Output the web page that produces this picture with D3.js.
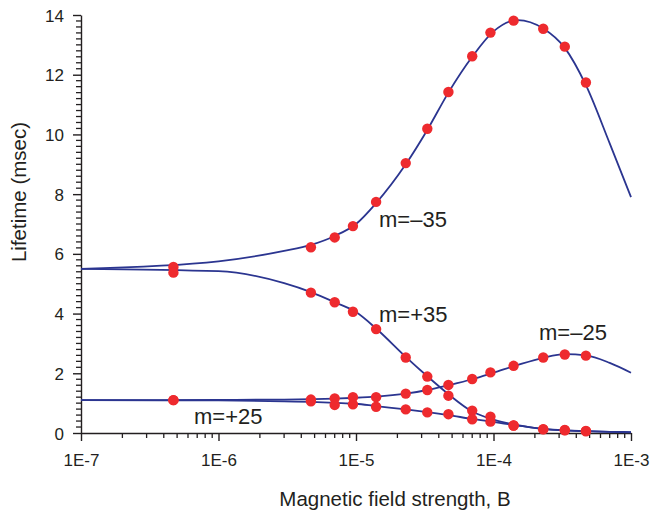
<!DOCTYPE html>
<html>
<head>
<meta charset="utf-8">
<script src="https://cdn.jsdelivr.net/npm/d3@7"></script>
<style>
  body { margin: 0; background: #fff; }
  text { font-family: "Liberation Sans", Arial, sans-serif; fill: #231f20; }
</style>
</head>
<body>
<div class="container"></div>
<script>
// measured field strengths (dots)
var fieldB = [4.7e-7, 4.7e-6, 7e-6, 9.5e-6, 1.4e-5, 2.3e-5, 3.3e-5, 4.7e-5, 7e-5, 9.5e-5, 1.4e-4, 2.3e-4, 3.3e-4, 4.7e-4];
var dotsM35neg = [5.56, 6.22, 6.55, 6.93, 7.74, 9.04, 10.19, 11.42, 12.62, 13.41, 13.81, 13.54, 12.94, 11.74];
var dotsM35pos = [5.37, 4.70, 4.38, 4.06, 3.48, 2.53, 1.89, 1.25, 0.75, 0.55, 0.25, 0.13, 0.10, 0.07];
var dotsM25neg = [1.10, 1.12, 1.16, 1.20, 1.20, 1.32, 1.44, 1.61, 1.81, 2.03, 2.25, 2.53, 2.63, 2.59];
var dotsM25pos = [1.10, 1.06, 0.94, 0.96, 0.88, 0.79, 0.69, 0.63, 0.46, 0.38, 0.25, 0.12, 0.09, 0.06];

// fitted curves
var curveB = [1e-7, 1e-6, 3e-6, 4.7e-6, 7e-6, 1e-5, 1.4e-5, 2.3e-5, 3.3e-5, 4.7e-5, 7e-5, 1e-4, 1.5e-4, 2.3e-4, 3.3e-4, 4.7e-4, 7e-4, 1e-3];
var curveM35neg = [5.50, 5.75, 6.10, 6.30, 6.60, 7.00, 7.70, 9.00, 10.15, 11.40, 12.60, 13.45, 13.83, 13.55, 12.90, 11.65, 9.70, 7.90];
var curveM35pos = [5.50, 5.42, 5.02, 4.72, 4.38, 4.05, 3.50, 2.55, 1.90, 1.30, 0.72, 0.45, 0.26, 0.13, 0.09, 0.06, 0.04, 0.02];
var curveM25neg = [1.10, 1.11, 1.12, 1.13, 1.15, 1.18, 1.22, 1.32, 1.44, 1.60, 1.80, 2.02, 2.28, 2.52, 2.64, 2.60, 2.35, 2.02];
var curveM25pos = [1.10, 1.09, 1.06, 1.04, 1.01, 0.98, 0.90, 0.79, 0.70, 0.60, 0.47, 0.37, 0.25, 0.14, 0.09, 0.06, 0.04, 0.03];

var seriesNames = ['m=\u201335', 'm=+35', 'm=\u201325', 'm=+25'];
var xTickLabels = ['1E-7', '1E-6', '1E-5', '1E-4', '1E-3'];

buildChart();

function buildChart() {
  var w = 651, h = 513;
  var left = 81, right = 631, top = 15, bottom = 433;

  var svg = d3.select('.container')
    .append('svg')
    .attr('width', w)
    .attr('height', h);

  var xScale = d3.scaleLog()
    .domain([1e-7, 1e-3])
    .range([left, right]);

  var yScale = d3.scaleLinear()
    .domain([0, 14])
    .range([bottom, top]);

  /* minor ticks, drawn as plain lines off the scales */
  var xMinor = [];
  for (var e = -7; e < -3; e++) {
    for (var k = 2; k <= 9; k++) xMinor.push(k * Math.pow(10, e));
  }
  var yMinor = d3.range(1, 70).filter(function(i) { return i % 10 != 0; })
    .map(function(i) { return i / 5; });

  svg.append('g')
    .selectAll('line')
    .data(xMinor)
    .enter()
    .append('line')
    .attr('x1', function(d) { return xScale(d); })
    .attr('x2', function(d) { return xScale(d); })
    .attr('y1', bottom)
    .attr('y2', bottom + 5)
    .attr('stroke', '#231f20')
    .attr('stroke-width', 1.3);

  svg.append('g')
    .selectAll('line')
    .data(yMinor)
    .enter()
    .append('line')
    .attr('x1', left - 5)
    .attr('x2', left)
    .attr('y1', function(d) { return yScale(d); })
    .attr('y2', function(d) { return yScale(d); })
    .attr('stroke', '#231f20')
    .attr('stroke-width', 1.3);

  var xAxis = d3.axisBottom(xScale)
    .tickValues([1e-7, 1e-6, 1e-5, 1e-4, 1e-3])
    .tickSize(8)
    .tickSizeOuter(0)
    .tickPadding(13)
    .tickFormat(function(d, i) { return xTickLabels[i]; });

  var yAxis = d3.axisLeft(yScale)
    .tickValues(d3.range(0, 15, 2))
    .tickSize(8)
    .tickSizeOuter(0)
    .tickPadding(9);

  var gx = svg.append('g')
    .attr('transform', 'translate(0,' + bottom + ')')
    .call(xAxis);
  var gy = svg.append('g')
    .attr('transform', 'translate(' + left + ',0)')
    .call(yAxis);

  svg.selectAll('.tick line, .domain')
    .attr('stroke', '#231f20')
    .attr('stroke-width', 1.4);

  gx.selectAll('text').style('font-size', '17px').attr('fill', '#231f20');
  gy.selectAll('text').style('font-size', '17px').attr('fill', '#231f20');
  gy.selectAll('.tick text').attr('dy', '0.36em');

  /* axis titles */
  svg.append('text')
    .attr('x', 395)
    .attr('y', 506)
    .attr('text-anchor', 'middle')
    .style('font-size', '20.5px')
    .text('Magnetic field strength, B');

  svg.append('text')
    .attr('transform', 'translate(26,192) rotate(-90)')
    .attr('text-anchor', 'middle')
    .style('font-size', '20.5px')
    .text('Lifetime (msec)');

  /* curves */
  var curves = [curveM35neg, curveM35pos, curveM25neg, curveM25pos];
  var line = d3.line()
    .x(function(d) { return xScale(d[0]); })
    .y(function(d) { return yScale(d[1]); })
    .curve(d3.curveMonotoneX);

  curves.forEach(function(vals) {
    svg.append('path')
      .datum(curveB.map(function(b, i) { return [b, vals[i]]; }))
      .attr('fill', 'none')
      .attr('stroke', '#2b3590')
      .attr('stroke-width', 1.8)
      .attr('d', line);
  });

  /* dots */
  var dots = [dotsM35neg, dotsM35pos, dotsM25neg, dotsM25pos];
  dots.forEach(function(vals) {
    svg.append('g')
      .selectAll('circle')
      .data(fieldB.map(function(b, i) { return [b, vals[i]]; }))
      .enter()
      .append('circle')
      .attr('cx', function(d) { return xScale(d[0]); })
      .attr('cy', function(d) { return yScale(d[1]); })
      .attr('r', 5.2)
      .attr('fill', '#ee2a2e');
  });

  /* series labels */
  var labelPos = [[379, 227], [379, 322], [539, 340], [194, 424]];
  seriesNames.forEach(function(name, i) {
    svg.append('text')
      .attr('x', labelPos[i][0])
      .attr('y', labelPos[i][1])
      .style('font-size', '22px')
      .text(name);
  });
}
</script>
</body>
</html>
